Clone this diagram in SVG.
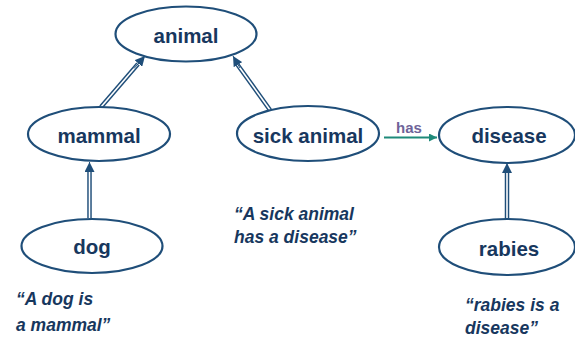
<svg xmlns="http://www.w3.org/2000/svg" width="575" height="341" viewBox="0 0 575 341">
<defs>
<style>
.node ellipse{fill:#fff;stroke:#1f4e79;stroke-width:2.2}
.node text{font-family:"Liberation Sans",Arial,sans-serif;font-weight:bold;font-size:20.5px;fill:#17375e;text-anchor:middle}
.outer{stroke:#1f4e79;stroke-width:4.5;fill:none}
.inner{stroke:#fff;stroke-width:1.6;fill:none}
.quote{font-family:"Liberation Sans",Arial,sans-serif;font-weight:bold;font-style:italic;font-size:17.5px;fill:#17375e}
</style>
<marker id="ah" viewBox="0 0 10 10" refX="10" refY="5" markerWidth="10" markerHeight="10" markerUnits="userSpaceOnUse" orient="auto">
<path d="M0,0 L10,5 L0,10 z" fill="#1f4e79"/>
</marker>
<marker id="ahg" viewBox="0 0 10 10" refX="10" refY="5" markerWidth="8" markerHeight="8" markerUnits="userSpaceOnUse" orient="auto">
<path d="M0,0 L10,5 L0,10 z" fill="#1e8a7a"/>
</marker>
</defs>
<rect width="575" height="341" fill="#fff"/>
<g id="connectors">
<path class="outer" d="M101,107 L138,64"/>
<path class="inner" d="M101,107 L138,64"/>
<path d="M134,68.5 L145,56" stroke="#1f4e79" stroke-width="1" marker-end="url(#ah)"/>
<path class="outer" d="M270,110 L237,64"/>
<path class="inner" d="M270,110 L237,64"/>
<path d="M240,68 L233,56" stroke="#1f4e79" stroke-width="1" marker-end="url(#ah)"/>
<path class="outer" d="M89.5,218 L89.5,171"/>
<path class="inner" d="M89.5,218 L89.5,171"/>
<path d="M89.5,172 L89.5,162" stroke="#1f4e79" stroke-width="1" marker-end="url(#ah)"/>
<path class="outer" d="M507,219 L507,172"/>
<path class="inner" d="M507,219 L507,172"/>
<path d="M507,173 L507,163" stroke="#1f4e79" stroke-width="1" marker-end="url(#ah)"/>
<path d="M384,137.5 L437,137.5" stroke="#1e8a7a" stroke-width="2" marker-end="url(#ahg)"/>
<text x="409" y="133" font-family="Liberation Sans,Arial,sans-serif" font-weight="bold" font-size="15" fill="#6e6399" text-anchor="middle">has</text>
</g>
<g id="animal" class="node"><ellipse cx="186" cy="34" rx="70.5" ry="27.5"/><text x="186" y="43">animal</text></g>
<g id="mammal" class="node"><ellipse cx="99" cy="134" rx="71" ry="27"/><text x="99" y="143">mammal</text></g>
<g id="sick-animal" class="node"><ellipse cx="308" cy="133.5" rx="71" ry="27.5"/><text x="308" y="143">sick animal</text></g>
<g id="disease" class="node"><ellipse cx="507" cy="135" rx="68" ry="28"/><text x="509" y="143">disease</text></g>
<g id="dog" class="node"><ellipse cx="92" cy="246" rx="70.5" ry="27"/><text x="92" y="254">dog</text></g>
<g id="rabies" class="node"><ellipse cx="507" cy="247" rx="68" ry="28"/><text x="509" y="256">rabies</text></g>
<text class="quote" x="16" y="305">“A dog is</text>
<text class="quote" x="16" y="331">a mammal”</text>
<text class="quote" x="234" y="220">“A sick animal</text>
<text class="quote" x="234" y="243">has a disease”</text>
<text class="quote" x="465" y="311">“rabies is a</text>
<text class="quote" x="465" y="334">disease”</text>
</svg>
